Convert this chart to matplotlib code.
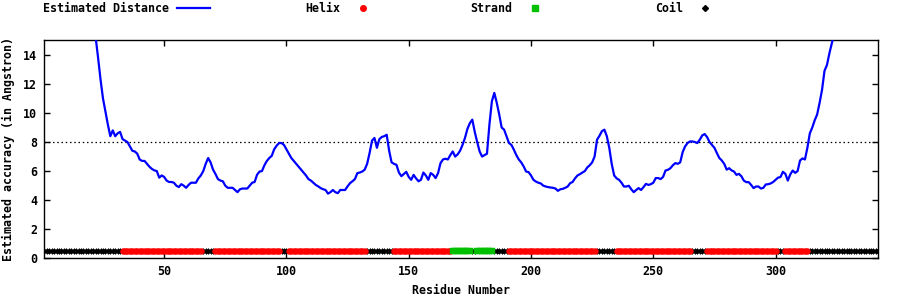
import matplotlib
matplotlib.use("Agg")
import matplotlib.pyplot as plt
import numpy as np

# ---- data ----
dist_start = 21
dist_values = [
    16.8, 15.2, 13.8, 12.3, 11.0, 10.1, 9.2, 8.4, 8.8, 8.4,          # 21-30
    8.6, 8.7, 8.2, 8.1, 8.0, 7.7, 7.4, 7.35, 7.2, 6.8,               # 31-40
    6.7, 6.7, 6.5, 6.3, 6.15, 6.05, 6.0, 5.55, 5.7, 5.6,             # 41-50
    5.35, 5.25, 5.25, 5.2, 5.0, 4.9, 5.1, 5.0, 4.85, 5.05,           # 51-60
    5.2, 5.2, 5.2, 5.5, 5.7, 6.0, 6.5, 6.9, 6.6, 6.1,                # 61-70
    5.8, 5.45, 5.35, 5.3, 5.0, 4.85, 4.85, 4.85, 4.7, 4.55,          # 71-80
    4.75, 4.8, 4.8, 4.8, 5.0, 5.2, 5.25, 5.75, 5.97, 6.0,            # 81-90
    6.4, 6.7, 6.9, 7.05, 7.5, 7.75, 7.93, 7.93, 7.8, 7.5,            # 91-100
    7.2, 6.9, 6.7, 6.5, 6.3, 6.1, 5.9, 5.7, 5.45, 5.35,              # 101-110
    5.2, 5.05, 4.95, 4.83, 4.75, 4.7, 4.45, 4.55, 4.7, 4.55,         # 111-120
    4.48, 4.7, 4.7, 4.7, 4.95, 5.17, 5.3, 5.45, 5.86, 5.9,           # 121-130
    5.97, 6.1, 6.5, 7.24, 8.1, 8.28, 7.6, 8.2, 8.35, 8.4,            # 131-140
    8.5, 7.4, 6.6, 6.5, 6.43, 5.9, 5.65, 5.8, 5.95, 5.6,             # 141-150
    5.4, 5.74, 5.5, 5.3, 5.4, 5.9, 5.7, 5.4, 5.86, 5.74,             # 151-160
    5.52, 5.86, 6.55, 6.8, 6.85, 6.8, 7.1, 7.35, 7.0, 7.15,          # 161-170
    7.4, 7.8, 8.28, 8.9, 9.3, 9.54, 8.7, 8.0, 7.35, 7.0,             # 171-180
    7.1, 7.2, 9.2, 10.8, 11.38, 10.7, 9.9, 9.0, 8.85, 8.4,           # 181-190
    7.93, 7.8, 7.47, 7.1, 6.8, 6.6, 6.32, 5.97, 5.93, 5.7,           # 191-200
    5.4, 5.28, 5.2, 5.15, 5.0, 4.94, 4.9, 4.87, 4.85, 4.8,           # 201-210
    4.64, 4.75, 4.78, 4.85, 4.94, 5.17, 5.25, 5.5, 5.7, 5.79,        # 211-220
    5.9, 6.0, 6.25, 6.4, 6.6, 7.0, 8.16, 8.43, 8.75, 8.85,           # 221-230
    8.4, 7.6, 6.5, 5.7, 5.5, 5.4, 5.2, 4.94, 4.94, 4.99,             # 231-240
    4.75, 4.55, 4.7, 4.83, 4.7, 4.9, 5.12, 5.05, 5.1, 5.2,           # 241-250
    5.52, 5.52, 5.45, 5.6, 6.04, 6.09, 6.2, 6.4, 6.55, 6.5,          # 251-260
    6.6, 7.3, 7.7, 7.93, 8.04, 8.04, 8.0, 7.93, 8.16, 8.45,          # 261-270
    8.55, 8.34, 8.0, 7.8, 7.6, 7.24, 6.9, 6.73, 6.5, 6.1,            # 271-280
    6.2, 6.05, 5.97, 5.74, 5.81, 5.65, 5.35, 5.24, 5.24, 5.05,       # 281-290
    4.83, 4.94, 4.94, 4.8, 4.85, 5.08, 5.1, 5.15, 5.25, 5.4,         # 291-300
    5.55, 5.59, 5.95, 5.81, 5.35, 5.77, 6.04, 5.88, 6.0, 6.73,       # 301-310
    6.87, 6.8, 7.6, 8.6, 9.0, 9.5, 9.9, 10.7, 11.6, 12.9,            # 311-320
    13.3, 14.1, 14.8, 15.5, 16.3,                                    # 321-325
]

n_residues = 342
ss_start = [1, 33, 66, 71, 98, 101, 133, 144, 168, 176, 178, 185, 191, 227, 235, 266, 272, 301, 304, 314]
ss_end   = [32, 65, 70, 97, 100, 132, 143, 167, 175, 177, 184, 190, 226, 234, 265, 271, 300, 303, 313, 342]
ss_type  = ["C", "H", "C", "H", "C", "H", "C", "H", "E", "C", "E", "C", "H", "C", "H", "C", "H", "C", "H", "C"]

ss_level = 0.5
threshold = 8
xticks = [50, 100, 150, 200, 250, 300]
yticks = [0, 2, 4, 6, 8, 10, 12, 14]

# ---- build ----
res = np.arange(dist_start, dist_start + len(dist_values))
ss_res = {"H": [], "E": [], "C": []}
for s, e, t in zip(ss_start, ss_end, ss_type):
    ss_res[t].extend(range(s, e + 1))

FS = 8.4
font = dict(family="DejaVu Sans Mono", weight="bold", size=FS)

fig = plt.figure(figsize=(9, 3), dpi=100)
ax = fig.add_axes([0.0492, 0.139, 0.9267, 0.7267])

ax.plot(res, dist_values, color="#0000ff", lw=1.6, zorder=3)
ax.axhline(threshold, color="black", lw=0.9, ls=(0, (1.2, 2.2)), zorder=2)

ax.plot(ss_res["C"], [ss_level] * len(ss_res["C"]), ls="none", marker="D",
        ms=3.0, mfc="black", mec="black", mew=0.3, zorder=4)
ax.plot(ss_res["H"], [ss_level] * len(ss_res["H"]), ls="none", marker="o",
        ms=4.3, mfc="#ff0000", mec="#ff0000", mew=0.3, zorder=4)
ax.plot(ss_res["E"], [ss_level] * len(ss_res["E"]), ls="none", marker="s",
        ms=5.0, mfc="#00c000", mec="#00c000", mew=0.3, zorder=4)

ax.set_xlim(1, n_residues)
ax.set_ylim(0, 15)
ax.set_xticks(xticks)
ax.set_yticks(yticks)
ax.tick_params(direction="in", length=4, width=1, top=True, right=True,
               labelsize=FS, pad=5)
for lab in ax.get_xticklabels() + ax.get_yticklabels():
    lab.set_fontfamily("DejaVu Sans Mono")
    lab.set_fontweight("bold")
for sp in ax.spines.values():
    sp.set_linewidth(1)

ax.set_xlabel("Residue Number", fontdict=font, labelpad=4)
ax.set_ylabel("Estimated accuracy (in Angstron)", fontdict=font, labelpad=6)

# legend (gnuplot-style top key)
ty = 1 - 9 / 300
fig.text(43 / 900, ty, "Estimated Distance", va="center", ha="left", **font)
fig.add_artist(plt.Line2D([177 / 900, 210 / 900], [1 - 8 / 300] * 2,
                          color="#0000ff", lw=1.6, transform=fig.transFigure))
fig.text(305 / 900, ty, "Helix", va="center", ha="left", **font)
fig.add_artist(plt.Line2D([363 / 900], [1 - 8 / 300], ls="none", marker="o", ms=4.0,
                          mfc="#ff0000", mec="#ff0000", transform=fig.transFigure))
fig.text(470 / 900, ty, "Strand", va="center", ha="left", **font)
fig.add_artist(plt.Line2D([535 / 900], [1 - 8 / 300], ls="none", marker="s", ms=5.0,
                          mfc="#00c000", mec="#00c000", transform=fig.transFigure))
fig.text(655 / 900, ty, "Coil", va="center", ha="left", **font)
fig.add_artist(plt.Line2D([705 / 900], [1 - 8 / 300], ls="none", marker="D", ms=3.0,
                          mfc="black", mec="black", transform=fig.transFigure))

fig.savefig("out.png", dpi=100)
